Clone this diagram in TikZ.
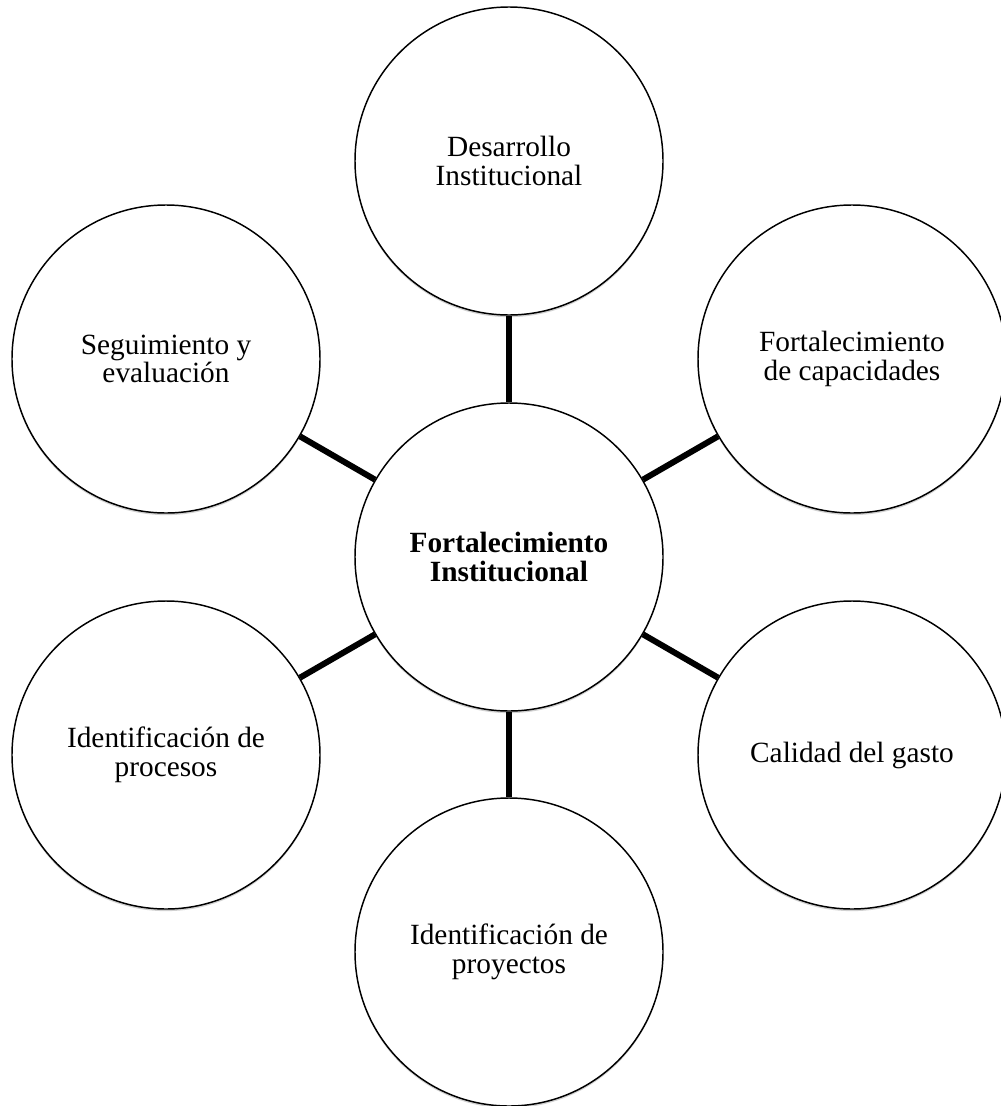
\documentclass[tikz,border=0pt]{standalone}
\usepackage{fontspec}
\setmainfont{Liberation Serif}
\usetikzlibrary{shadows}
\begin{document}
\begin{tikzpicture}[x=0.75pt,y=-0.75pt,
  bubble/.style={circle, draw=black, line width=1.1pt, fill=white,
    minimum size=231pt, inner sep=0pt, align=center,
    font=\fontsize{22}{21.5}\selectfont,
    drop shadow={shadow xshift=0pt, shadow yshift=-1.6pt, opacity=0.18, fill=black}},
  link/.style={line width=4.5pt, line cap=butt}]
  \useasboundingbox (0,0) rectangle (1000,1106);

  % hub and its six satellites on a hexagon
  \node[bubble] (hub) at (509,557) {\textbf{Fortalecimiento}\\\textbf{Institucional}};
  \node[bubble] (top) at (509,161) {Desarrollo\\Institucional};
  \node[bubble] (ur)  at (852,359) {Fortalecimiento\\de capacidades};
  \node[bubble] (lr)  at (852,755) {Calidad del gasto};
  \node[bubble] (bot) at (509,952) {Identificación de\\proyectos};
  \node[bubble] (ll)  at (166,755) {Identificación de\\procesos};
  \node[bubble] (ul)  at (166,359) {Seguimiento y\\evaluación};

  % spokes
  \foreach \n in {top,ur,lr,bot,ll,ul}
    \draw[link] (hub) -- (\n);
\end{tikzpicture}
\end{document}
